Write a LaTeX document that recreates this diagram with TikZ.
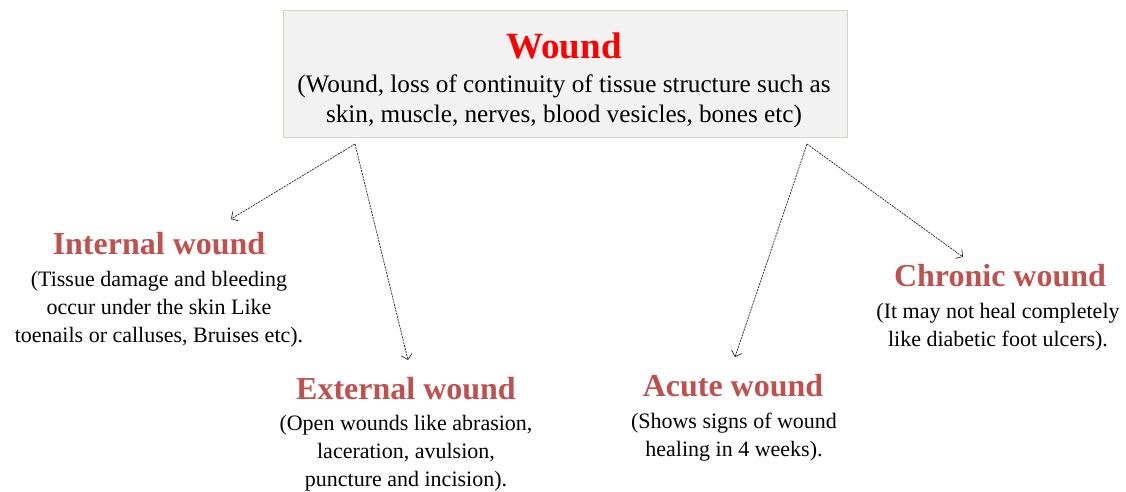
\documentclass[tikz,border=0pt]{standalone}
\usepackage{fontspec}
\setmainfont{Liberation Serif}
\usetikzlibrary{arrows.meta}
\definecolor{boxfill}{HTML}{F2F2F2}
\definecolor{boxline}{HTML}{D9D4BE}
\definecolor{headred}{HTML}{C0504D}
\definecolor{arrowgray}{HTML}{2A2A2A}
\tikzset{
  mainbox/.style={draw=boxline, fill=boxfill, line width=0.8pt},
  maintitle/.style={anchor=base, inner sep=0pt, text=red, font=\fontsize{37}{40}\selectfont\bfseries},
  maintext/.style={anchor=north, inner sep=0pt, align=center, font=\fontsize{25.2}{30}\selectfont},
  heading/.style={anchor=base, inner sep=0pt, text=headred, font=\fontsize{32}{36}\selectfont\bfseries},
  bodytext/.style={anchor=north, inner sep=0pt, align=center, font=\fontsize{22}{27.8}\selectfont},
  link/.style={draw=arrowgray, line width=0.75pt, dash pattern=on 2pt off 1pt, -{Straight Barb[length=5pt,width=11pt,line width=0.7pt]}}
}
\begin{document}
\begin{tikzpicture}[x=1pt,y=-1pt]
\useasboundingbox (0,0) rectangle (1126,491);
\path[mainbox] (283,10) rectangle (847,137);
\node[maintitle] (wound) at (564,58) {Wound};
\node[maintext] (wounddesc) at (564,75) {(Wound, loss of continuity of tissue structure such as\\skin, muscle, nerves, blood vesicles, bones etc)};

\node[heading] (internal) at (159,254) {Internal wound};
\node[bodytext] (internaldesc) at (159,271) {(Tissue damage and bleeding\\occur under the skin Like\\toenails or calluses, Bruises etc).};

\node[heading] (external) at (406,399) {External wound};
\node[bodytext] (externaldesc) at (406,415) {(Open wounds like abrasion,\\laceration, avulsion,\\puncture and incision).};

\node[heading] (acute) at (733,396) {Acute wound};
\node[bodytext] (acutedesc) at (734,413) {(Shows signs of wound\\healing in 4 weeks).};

\node[heading] (chronic) at (1000,286) {Chronic wound};
\node[bodytext] (chronicdesc) at (998,303) {(It may not heal completely\\like diabetic foot ulcers).};

\coordinate (lsrc) at (355,144);
\coordinate (rsrc) at (807,144);
\coordinate (itip) at (231,219);
\coordinate (etip) at (408,360);
\coordinate (atip) at (735,357);
\coordinate (ctip) at (963,257);
\draw[link] (lsrc) -- (itip);
\draw[link] (lsrc) -- (etip);
\draw[link] (rsrc) -- (atip);
\draw[link] (rsrc) -- (ctip);
\end{tikzpicture}
\end{document}
